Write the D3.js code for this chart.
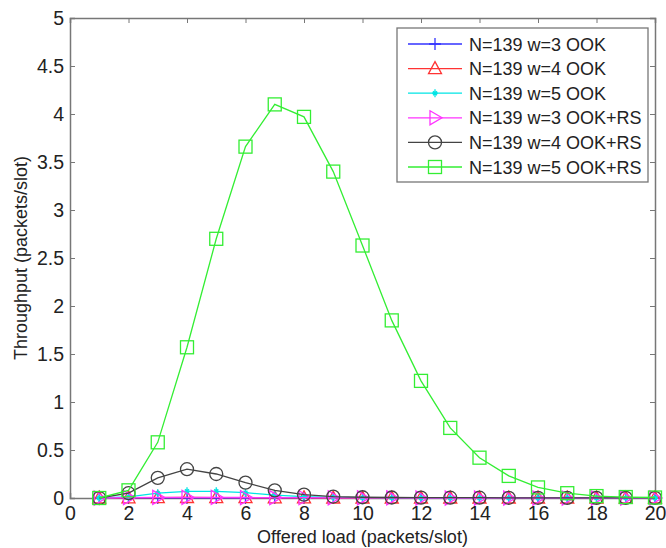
<!DOCTYPE html>
<html>
<head>
<meta charset="utf-8">
<script src="https://cdn.jsdelivr.net/npm/d3@7"></script>
<style>
  body { margin: 0; background: #fff; }
  text { font-family: "Liberation Sans", Arial, sans-serif; fill: #222; }
</style>
</head>
<body>
<script>
// offered load values (x axis)
const load = d3.range(1, 21);

// throughput series
const w3ook   = [0, 0, 0, 0, 0, 0, 0, 0, 0, 0, 0, 0, 0, 0, 0, 0, 0, 0, 0, 0];
const w4ook   = [0, 0.002, 0.004, 0.005, 0.004, 0.003, 0.002, 0.001, 0, 0, 0, 0, 0, 0, 0, 0, 0, 0, 0, 0];
const w5ook   = [0, 0.012, 0.05, 0.07, 0.07, 0.055, 0.03, 0.015, 0.007, 0.003, 0.001, 0, 0, 0, 0, 0, 0, 0, 0, 0];
const w3ookrs = [0, 0.004, 0.006, 0.006, 0.006, 0.005, 0.004, 0.003, 0.002, 0.001, 0.001, 0, 0, 0, 0, 0, 0, 0, 0, 0];
const w4ookrs = [0, 0.05, 0.21, 0.30, 0.25, 0.16, 0.08, 0.035, 0.015, 0.008, 0.005, 0.004, 0.003, 0.003, 0.002, 0.002, 0.001, 0.001, 0.001, 0.001];
const w5ookrs = [0, 0.08, 0.58, 1.57, 2.70, 3.66, 4.10, 3.97, 3.40, 2.63, 1.85, 1.22, 0.73, 0.42, 0.23, 0.11, 0.05, 0.02, 0.01, 0.005];

const names   = ["N=139 w=3 OOK", "N=139 w=4 OOK", "N=139 w=5 OOK",
                 "N=139 w=3 OOK+RS", "N=139 w=4 OOK+RS", "N=139 w=5 OOK+RS"];
const colors  = ["#3333ff", "#ff3333", "#00e5e5", "#ff33ff", "#444444", "#33ee33"];
const markers = ["plus", "triUp", "star", "triRight", "circle", "square"];
const series  = [w3ook, w4ook, w5ook, w3ookrs, w4ookrs, w5ookrs];

const xTicks = d3.range(0, 21, 2);
const yTicks = d3.range(0, 5.01, 0.5);

let width = 666, height = 548;
let margin = {left: 70, right: 11, top: 18, bottom: 50};

let svg = d3.select("body").append("svg")
  .attr("width", width)
  .attr("height", height);

let x = d3.scaleLinear().domain([0, 20]).range([margin.left, width - margin.right]);
let y = d3.scaleLinear().domain([0, 5]).range([height - margin.bottom, margin.top]);

const axisColor = "#777";

// axes (ticks point inward like matlab)
let gx = svg.append("g").attr("transform", `translate(0,${y(0)})`)
  .call(d3.axisBottom(x).tickValues(xTicks).tickSize(-5).tickPadding(8).tickFormat(d3.format("d")));
let gxTop = svg.append("g").attr("transform", `translate(0,${y(5)})`)
  .call(d3.axisTop(x).tickValues(xTicks).tickSize(-5).tickFormat(""));
let gy = svg.append("g").attr("transform", `translate(${x(0)},0)`)
  .call(d3.axisLeft(y).tickValues(yTicks).tickSize(-5).tickPadding(6).tickFormat(d => d3.format("")(d)));
let gyR = svg.append("g").attr("transform", `translate(${x(20)},0)`)
  .call(d3.axisRight(y).tickValues(yTicks).tickSize(-5).tickFormat(""));

[gx, gxTop, gy, gyR].forEach(g => {
  g.select(".domain").attr("stroke", axisColor).attr("stroke-width", 1.5);
  g.selectAll(".tick line").attr("stroke", axisColor);
  g.selectAll("text").attr("font-size", 19.5).attr("fill", "#222")
    .attr("font-family", "Liberation Sans, Arial, sans-serif");
});

// axis titles
svg.append("text")
  .attr("x", x(10)).attr("y", height - 5)
  .attr("text-anchor", "middle").attr("font-size", 18)
  .text("Offered load (packets/slot)");
svg.append("text")
  .attr("transform", `translate(27,${y(2.5)}) rotate(-90)`)
  .attr("text-anchor", "middle").attr("font-size", 18)
  .text("Throughput (packets/slot)");

// marker drawing
function drawMarker(g, type, color) {
  if (type === "plus") {
    g.append("path").attr("d", "M-6,0H6M0,-6V6");
  } else if (type === "triUp") {
    g.append("path").attr("d", "M0,-7L6.5,5H-6.5Z");
  } else if (type === "star") {
    g.append("path").attr("d", "M-3,0H3M0,-4V4M-2,-2L2,2M-2,2L2,-2");
  } else if (type === "triRight") {
    g.append("path").attr("d", "M-5,-7L7,0L-5,7Z");
  } else if (type === "circle") {
    g.append("circle").attr("r", 6.5);
  } else if (type === "square") {
    g.append("rect").attr("x", -6.5).attr("y", -6.5).attr("width", 13).attr("height", 13);
  }
  g.selectAll("*").attr("fill", "none").attr("stroke", color).attr("stroke-width", 1.3);
}

let line = d3.line().x((d, i) => x(load[i])).y(d => y(d));

series.forEach((s, k) => {
  let g = svg.append("g");
  g.append("path").datum(s)
    .attr("d", line)
    .attr("fill", "none")
    .attr("stroke", colors[k])
    .attr("stroke-width", 1.3);
  g.selectAll(".m").data(s).enter().append("g")
    .attr("transform", (d, i) => `translate(${x(load[i])},${y(d)})`)
    .each(function() { drawMarker(d3.select(this), markers[k], colors[k]); });
});

// legend
let lg = svg.append("g").attr("transform", "translate(397,28)");
lg.append("rect").attr("width", 251).attr("height", 154)
  .attr("fill", "#fff").attr("stroke", axisColor).attr("stroke-width", 1.3);
names.forEach((n, k) => {
  let yy = 16 + k * 24.6;
  lg.append("line").attr("x1", 11).attr("x2", 65).attr("y1", yy).attr("y2", yy)
    .attr("stroke", colors[k]).attr("stroke-width", 1.3);
  let mg = lg.append("g").attr("transform", `translate(38,${yy})`);
  drawMarker(mg, markers[k], colors[k]);
  lg.append("text").attr("x", 72).attr("y", yy + 6.5)
    .attr("font-size", 18).text(n);
});
</script>
</body>
</html>
